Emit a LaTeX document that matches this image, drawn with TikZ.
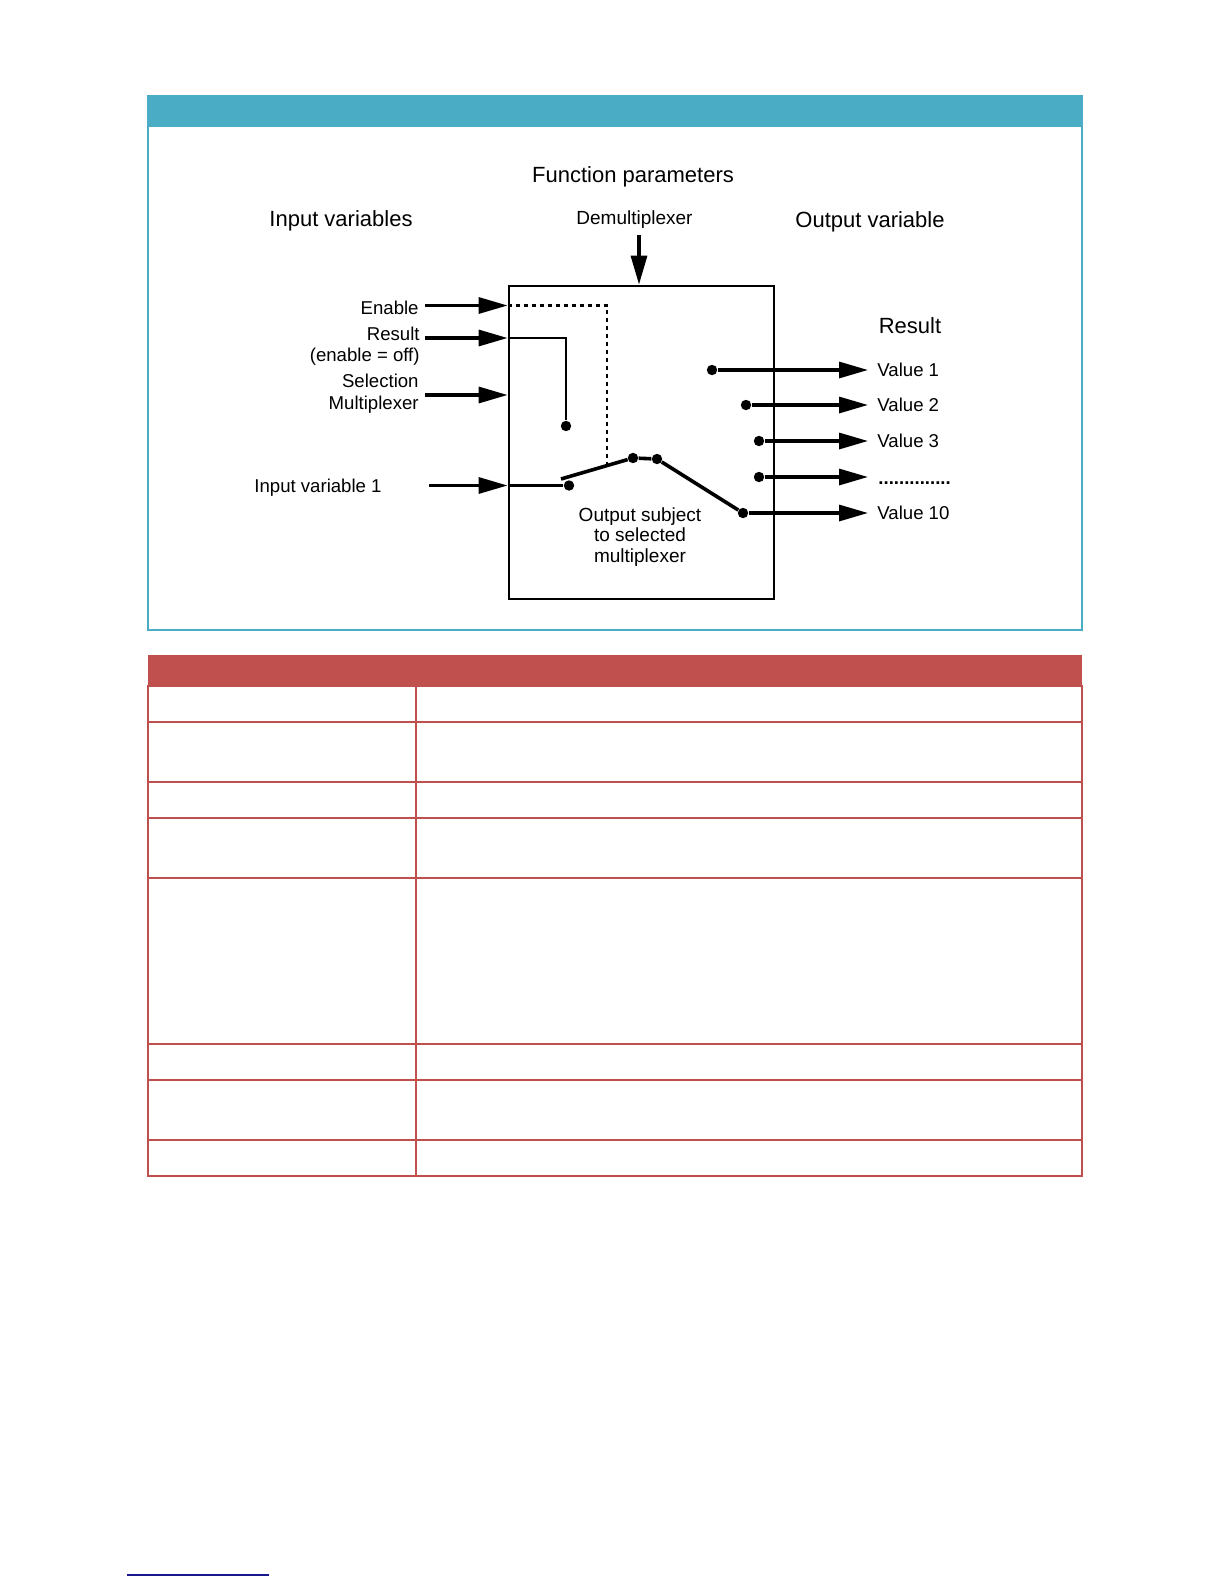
\documentclass[tikz,border=0pt]{standalone}
\usepackage{fontspec}
\setmainfont{Liberation Sans}
\usetikzlibrary{arrows.meta,positioning}
\definecolor{barblue}{RGB}{75,172,198}
\definecolor{tabred}{RGB}{192,80,77}
\definecolor{linkblue}{RGB}{24,24,140}

\begin{document}
\begin{tikzpicture}[
    x=0.5pt, y=-0.5pt,
    lbl/.style={inner sep=0, font=\fontsize{9.3}{10.6}\selectfont},
    head/.style={inner sep=0, font=\fontsize{11}{13}\selectfont},
    pin/.style={circle, fill, inner sep=0, minimum size=5.2pt},
    arrow/.style={-{Triangle[length=14.5pt, width=8pt]}, line width=1.6pt},
    wire/.style={line width=1.1pt},
    lever/.style={line width=1.8pt},
    ctrl/.style={line width=1.1pt, dash pattern=on 2pt off 2pt},
    grid/.style={tabred, line width=0.7pt}
]
\useasboundingbox (0,0) rectangle (1224,1584);

% Diagram panel
\fill[barblue] (148,96) rectangle (1082,127);
\draw[barblue, line width=0.6pt] (148,96) rectangle (1082,630);

% Headings
\node[head, anchor=base] (title) at (633,182) {Function parameters};
\node[head, anchor=base] (invars) at (341,226) {Input variables};
\node[head, anchor=base] (outvar) at (870,227) {Output variable};
\node[lbl, anchor=base, font=\fontsize{9.5}{11}\selectfont] (demux) at (634.5,224) {Demultiplexer};

% Function block
\node[draw, line width=1.4pt, minimum width=132.5pt, minimum height=156.5pt, inner sep=0] (box) at (641.5,442.5) {};

\coordinate (dmA) at (639,235);
\draw[arrow] (dmA) -- (dmA |- box.north);

% Input variables
\node[lbl, anchor=base east] (en) at (419,314) {Enable};
\node[lbl, anchor=base east, align=right] (res) at (420,361.5) {Result\\(enable = off)};
\node[lbl, anchor=base east, align=right] (sel) at (419,409) {Selection\\Multiplexer};
\node[lbl, anchor=base east] (in1) at (382,492) {Input variable 1};

\coordinate (enA) at (425,305.5);
\coordinate (resA) at (425,338);
\coordinate (selA) at (425,395);
\coordinate (inA) at (429,485.5);

\draw[arrow] (enA) -- (enA -| box.west);
\draw[arrow] (resA) -- (resA -| box.west);
\draw[arrow] (selA) -- (selA -| box.west);
\draw[arrow] (inA) -- (inA -| box.west);

% Inside the block
\node[pin] (rdot) at (566,426) {};
\node[pin] (indot) at (569,485.5) {};
\node[pin] (p1) at (633,458) {};
\node[pin] (p2) at (657,459) {};
\coordinate (lv) at (561,479);
\coordinate (dk) at (607,305.5);
\coordinate (dl) at (607,465);

\draw[ctrl] (box.west |- dk) -- (dk) -- (dl);
\draw[wire] (box.west |- resA) -| (rdot);
\draw[wire] (box.west |- inA) -- (indot);
\draw[lever] (lv) -- (p1);
\draw[lever] (p1) -- (p2);

\node[lbl, anchor=base, align=center, font=\fontsize{9.5}{10.25}\selectfont] (note) at (640,562) {Output subject\\to selected\\multiplexer};

% Output variable
\node[head, anchor=base] (reshead) at (910,333) {Result};

\node[pin] (o1) at (712,370) {};
\node[pin] (o2) at (746,405) {};
\node[pin] (o3) at (759,441) {};
\node[pin] (o4) at (759,477) {};
\node[pin] (o5) at (743,513) {};

\draw[lever] (p2) -- (o5);

\coordinate (t1) at (868,370);
\coordinate (t2) at (868,405);
\coordinate (t3) at (868,441);
\coordinate (t4) at (868,477);
\coordinate (t5) at (868,513);

\draw[arrow] (o1) -- (t1);
\draw[arrow] (o2) -- (t2);
\draw[arrow] (o3) -- (t3);
\draw[arrow] (o4) -- (t4);
\draw[arrow] (o5) -- (t5);

\node[lbl, anchor=base west] (val1) at (877,376) {Value 1};
\node[lbl, anchor=base west] (val2) at (877,411) {Value 2};
\node[lbl, anchor=base west] (val3) at (877,447) {Value 3};
\node[lbl, anchor=base west] (valdots) at (878,484) {\textbf{..............}};
\node[lbl, anchor=base west] (val10) at (877,519) {Value 10};

% Table
\fill[tabred] (148,655) rectangle (1082,686);
\draw[grid] (148,686) rectangle (1082,1176);
\draw[grid] (416,686) -- (416,1176);
\draw[grid] (148,722) -- (1082,722);
\draw[grid] (148,782) -- (1082,782);
\draw[grid] (148,818) -- (1082,818);
\draw[grid] (148,878) -- (1082,878);
\draw[grid] (148,1044) -- (1082,1044);
\draw[grid] (148,1080) -- (1082,1080);
\draw[grid] (148,1140) -- (1082,1140);

% Footer rule
\draw[linkblue, line width=0.7pt] (127,1575) -- (269,1575);

\end{tikzpicture}
\end{document}
